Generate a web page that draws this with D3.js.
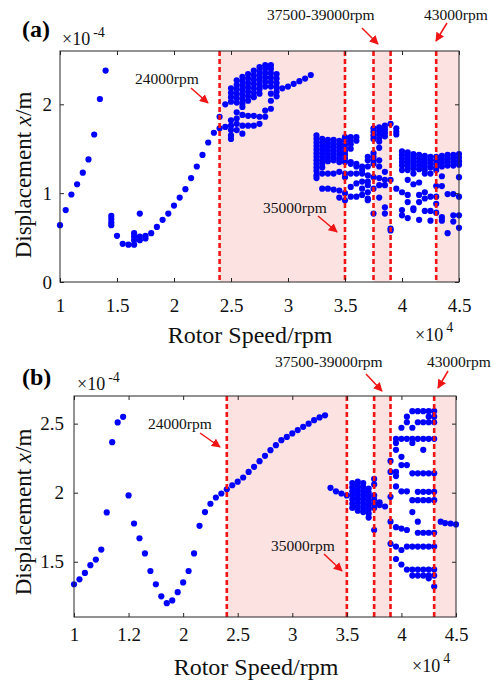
<!DOCTYPE html>
<html>
<head>
<meta charset="utf-8">
<script src="https://cdn.jsdelivr.net/npm/d3@7"></script>
<style>
  body { margin: 0; background: #fff; }
  svg { display: block; }
</style>
</head>
<body>
<div class="layout"></div>
<script>

// speed in x10^4 rpm, displacement in x10^-4 m
const speedTicks = [1, 1.5, 2, 2.5, 3, 3.5, 4, 4.5]
const speedLabelsA = ["1", "1.5", "2", "2.5", "3", "3.5", "4", "4.5"]
const speedLabelsB = ["1", "1.2", "2", "2.5", "3", "3.5", "4", "4.5"]
const dispTicksA = [0, 1, 2]
const dispTicksB = [1.5, 2, 2.5]

// pink bands and the red marker lines (same in both panels)
const shadeBands = [[2.4, 3.5], [3.75, 3.9], [4.3, 4.5]]
const markSpeeds = [2.4, 3.5, 3.75, 3.9, 4.3]

// (a) single points
const curveA = [
  [1.00, 0.64], [1.05, 0.81], [1.10, 0.985], [1.15, 1.10], [1.20, 1.23], [1.25, 1.38],
  [1.30, 1.66], [1.35, 2.06], [1.40, 2.38],
  [1.45, 0.64], [1.45, 0.67], [1.45, 0.71], [1.45, 0.745],
  [1.50, 0.52], [1.55, 0.43], [1.60, 0.42],
  [1.65, 0.42], [1.65, 0.47], [1.65, 0.51], [1.65, 0.55],
  [1.70, 0.47], [1.70, 0.51], [1.70, 0.77], [1.75, 0.49], [1.75, 0.52],
  [1.80, 0.55], [1.85, 0.62], [1.90, 0.70], [1.95, 0.77], [2.00, 0.86], [2.05, 0.95],
  [2.10, 1.045], [2.15, 1.17], [2.20, 1.30], [2.25, 1.43], [2.30, 1.57], [2.35, 1.68],
  [2.40, 1.73], [2.40, 1.86],
  [2.95, 2.18], [3.00, 2.20], [3.05, 2.23], [3.10, 2.26], [3.15, 2.29], [3.20, 2.33]
]

// (a) columns of points, 24000-29000 rpm
const clusterA1 = [
  [2.45, [2.00, 1.745]],
  [2.50, [2.18, 2.13, 2.08, 2.03, 1.82, 1.76, 1.71, 1.65, 1.61]],
  [2.55, [2.27, 2.22, 2.17, 2.12, 2.07, 2.02, 1.91, 1.84, 1.78, 1.71]],
  [2.60, [2.31, 2.26, 2.21, 2.16, 2.11, 2.06, 2.01, 1.97, 1.88, 1.76, 1.67]],
  [2.65, [2.34, 2.29, 2.24, 2.19, 2.14, 2.09, 2.04, 1.87, 1.76]],
  [2.70, [2.38, 2.33, 2.28, 2.23, 2.18, 2.13, 2.08, 1.87, 1.76]],
  [2.75, [2.42, 2.37, 2.32, 2.27, 2.22, 2.17, 2.12, 1.86, 1.78]],
  [2.80, [2.44, 2.40, 2.35, 2.30, 2.25, 2.20, 1.93, 1.86]],
  [2.85, [2.44, 2.40, 2.35, 2.30, 2.25, 2.20, 2.12, 2.04, 1.95]],
  [2.90, [2.34, 2.29, 2.24, 2.19, 2.14, 2.09]]
]

// (a) columns of points, 32500-45000 rpm
const clusterA2 = [
  [3.25, [1.65, 1.61, 1.57, 1.53, 1.49, 1.45, 1.41, 1.37, 1.33, 1.29, 1.25, 1.20, 1.17]],
  [3.30, [1.61, 1.57, 1.53, 1.49, 1.45, 1.41, 1.37, 1.33, 1.29, 1.22, 1.05]],
  [3.35, [1.60, 1.56, 1.52, 1.48, 1.44, 1.40, 1.36, 1.22, 1.05]],
  [3.40, [1.60, 1.56, 1.52, 1.48, 1.44, 1.40, 1.37, 1.22, 1.04]],
  [3.45, [1.59, 1.55, 1.51, 1.47, 1.43, 1.39, 1.35, 1.24, 1.03, 0.95]],
  [3.50, [1.63, 1.59, 1.55, 1.51, 1.47, 1.43, 1.39, 1.35, 1.22, 1.18, 1.00, 0.92]],
  [3.55, [1.63, 1.59, 1.55, 1.50, 1.35, 1.33, 1.22, 1.07, 0.96]],
  [3.60, [1.63, 1.59, 1.33, 1.30, 1.22, 1.11, 0.96]],
  [3.65, [1.30, 1.26, 1.22, 1.13, 1.05, 0.98]],
  [3.70, [1.41, 1.37, 1.30, 1.20, 1.13, 1.09, 1.01, 0.94, 0.92]],
  [3.75, [1.73, 1.69, 1.65, 1.61, 1.45, 1.41, 1.37, 1.33, 1.18, 1.05, 0.77]],
  [3.80, [1.74, 1.70, 1.66, 1.62, 1.58, 1.51, 1.37, 1.30, 1.17, 1.09, 0.95]],
  [3.85, [1.76, 1.72, 1.68, 1.64, 1.24, 1.15, 1.09, 0.84, 0.77]],
  [3.90, [1.78, 1.15, 0.60, 0.58]],
  [3.95, [1.73, 1.69, 1.66, 1.05]],
  [4.00, [1.47, 1.43, 1.39, 1.35, 1.31, 1.26, 1.01, 0.81, 0.75]],
  [4.05, [1.46, 1.42, 1.38, 1.34, 1.30, 1.26, 1.15, 0.98, 0.90, 0.72]],
  [4.10, [1.44, 1.40, 1.36, 1.32, 1.28, 1.22, 1.10, 0.83, 0.81]],
  [4.15, [1.43, 1.39, 1.35, 1.31, 1.27, 1.12, 0.98, 0.90, 0.70]],
  [4.20, [1.42, 1.38, 1.34, 1.30, 1.26, 1.22, 1.01, 0.94, 0.80]],
  [4.25, [1.41, 1.37, 1.33, 1.29, 1.22, 0.96, 0.80, 0.69]],
  [4.30, [1.41, 1.37, 1.33, 1.29, 1.26, 1.08, 0.96, 0.88, 0.78]],
  [4.35, [1.42, 1.38, 1.34, 1.30, 1.19, 1.08, 0.73, 0.69]],
  [4.40, [1.43, 1.39, 1.35, 1.31, 0.99, 0.55]],
  [4.45, [1.43, 1.39, 1.35, 1.31, 0.99, 0.75, 0.68]],
  [4.50, [1.44, 1.40, 1.36, 1.32, 1.18, 0.96, 0.75, 0.61]]
]

// (b) single points
const curveB = [
  [1.00, 1.337], [1.05, 1.373], [1.10, 1.419], [1.15, 1.475], [1.20, 1.516], [1.25, 1.588],
  [1.30, 1.857], [1.35, 2.366], [1.40, 2.509], [1.45, 2.549], [1.50, 1.98], [1.55, 1.777],
  [1.60, 1.67], [1.65, 1.56], [1.70, 1.433], [1.75, 1.337], [1.80, 1.25], [1.85, 1.20],
  [1.90, 1.22], [1.95, 1.28], [2.00, 1.35], [2.05, 1.433], [2.10, 1.56], [2.15, 1.76],
  [2.20, 1.86], [2.25, 1.92], [2.30, 1.965], [2.35, 1.994], [2.40, 2.025], [2.45, 2.054],
  [2.50, 2.08], [2.55, 2.11], [2.60, 2.15], [2.65, 2.187], [2.70, 2.228], [2.75, 2.267],
  [2.80, 2.308], [2.85, 2.344], [2.90, 2.38], [2.95, 2.404], [3.00, 2.429], [3.05, 2.453],
  [3.10, 2.477], [3.15, 2.50], [3.20, 2.525], [3.25, 2.545], [3.30, 2.56],
  [3.35, 2.035], [3.40, 2.01], [3.45, 1.994], [3.50, 1.98],
  [4.36, 1.79], [4.40, 1.78], [4.45, 1.777], [4.50, 1.77]
]

// (b) columns of points
const clusterB = [
  [3.55, [2.07, 2.04, 2.01, 1.98, 1.95, 1.92, 1.89]],
  [3.60, [2.08, 2.05, 2.02, 1.99, 1.96, 1.93, 1.90, 1.87]],
  [3.65, [2.07, 2.04, 2.01, 1.98, 1.95, 1.92, 1.89, 1.86]],
  [3.70, [2.03, 2.00, 1.97, 1.94, 1.91, 1.88, 1.85, 1.82]],
  [3.75, [2.10, 2.06, 1.98, 1.95, 1.92, 1.89, 1.73]],
  [3.80, [1.93, 1.91]],
  [3.85, [1.90]],
  [3.90, [2.23, 2.15, 1.97, 1.79, 1.63]],
  [3.95, [2.39, 2.36, 2.31, 2.15, 2.12, 2.045, 1.75, 1.61, 1.52]],
  [4.00, [2.47, 2.39, 2.26, 2.20, 2.01, 1.74, 1.585, 1.48]],
  [4.05, [2.55, 2.51, 2.39, 2.20, 2.01, 1.73, 1.61, 1.443]],
  [4.10, [2.59, 2.47, 2.39, 2.36, 2.14, 1.946, 1.86, 1.61, 1.443, 1.40]],
  [4.15, [2.59, 2.51, 2.39, 2.14, 2.006, 1.946, 1.79, 1.71, 1.61, 1.443, 1.40]],
  [4.20, [2.59, 2.51, 2.39, 2.31, 2.14, 2.006, 1.946, 1.71, 1.61, 1.443, 1.40]],
  [4.25, [2.59, 2.55, 2.51, 2.39, 2.14, 2.006, 1.946, 1.71, 1.61, 1.443, 1.40, 1.38]],
  [4.30, [2.59, 2.55, 2.51, 2.39, 2.14, 2.006, 1.946, 1.71, 1.61, 1.443, 1.40, 1.32]]
]

const serif = "'Liberation Serif', 'Times New Roman', serif"
const red = "#f01414"

var svg = d3.select("div.layout")
  .append("svg")
    .attr("width", 493)
    .attr("height", 686)

svg.append("defs")
  .append("marker")
    .attr("id", "head")
    .attr("viewBox", "0 0 10 10")
    .attr("refX", 9)
    .attr("refY", 5)
    .attr("markerWidth", 9)
    .attr("markerHeight", 9)
    .attr("markerUnits", "userSpaceOnUse")
    .attr("orient", "auto")
  .append("path")
    .attr("d", "M0,0 L10,5 L0,10 Z")
    .attr("fill", red)

// flatten column data into points
function toPoints (single, columns) {
  var points = single.slice()
  columns.forEach(function (col) {
    col[1].forEach(function (d) {
      points.push([col[0], d])
    })
  })
  return points
}

function drawPanel (cfg) {
  const x = d3.scaleLinear()
    .domain([1, 4.5])
    .range([cfg.left, cfg.right])

  const y = d3.scaleLinear()
    .domain(cfg.yDomain)
    .range([cfg.bottom, cfg.top])

  var g = svg.append("g")

  // pink bands
  g.selectAll("rect.band")
    .data(shadeBands)
    .enter()
    .append("rect")
    .attr("class", "band")
    .attr("x", function (d) { return x(d[0]) })
    .attr("y", cfg.top)
    .attr("width", function (d) { return x(d[1]) - x(d[0]) })
    .attr("height", cfg.bottom - cfg.top)
    .attr("fill", "#fde2e2")

  // the dots
  g.selectAll("circle")
    .data(cfg.points)
    .enter()
    .append("circle")
    .attr("cx", function (d) { return x(d[0]) })
    .attr("cy", function (d) { return y(d[1]) })
    .attr("r", 3.1)
    .attr("fill", "#0000ff")

  // red dashed lines
  g.selectAll("line.mark")
    .data(markSpeeds)
    .enter()
    .append("line")
    .attr("class", "mark")
    .attr("x1", function (d) { return x(d) })
    .attr("x2", function (d) { return x(d) })
    .attr("y1", cfg.top)
    .attr("y2", cfg.bottom)
    .attr("stroke", red)
    .attr("stroke-width", 2.6)
    .attr("stroke-dasharray", "5,3")

  // axes, ticks pointing inwards on all four sides
  var xAxis = g.append("g")
    .attr("transform", "translate(0," + cfg.bottom + ")")
    .call(d3.axisBottom(x)
      .tickValues(speedTicks)
      .tickFormat(function (d, i) { return cfg.xLabels[i] })
      .tickSizeInner(-4)
      .tickSizeOuter(0)
      .tickPadding(cfg.xPad))

  var yAxis = g.append("g")
    .attr("transform", "translate(" + cfg.left + ",0)")
    .call(d3.axisLeft(y)
      .tickValues(cfg.yTicks)
      .tickFormat(d3.format("~g"))
      .tickSizeInner(-4)
      .tickSizeOuter(0)
      .tickPadding(cfg.yPad))

  g.append("g")
    .attr("transform", "translate(0," + cfg.top + ")")
    .call(d3.axisTop(x).tickValues(speedTicks).tickFormat("").tickSizeInner(-4).tickSizeOuter(0))

  g.append("g")
    .attr("transform", "translate(" + cfg.right + ",0)")
    .call(d3.axisRight(y).tickValues(cfg.yTicks).tickFormat("").tickSizeInner(-4).tickSizeOuter(0))

  g.selectAll(".domain").remove()
  g.selectAll(".tick line").attr("stroke", "#262626")

  g.selectAll(".tick text")
    .attr("font-family", serif)
    .attr("font-size", 19)
    .attr("fill", "#111")

  g.append("rect")
    .attr("x", cfg.left)
    .attr("y", cfg.top)
    .attr("width", cfg.right - cfg.left)
    .attr("height", cfg.bottom - cfg.top)
    .attr("fill", "none")
    .attr("stroke", "#262626")
    .attr("stroke-width", 1)

  // panel letter
  g.append("text")
    .attr("x", 22)
    .attr("y", cfg.letterY)
    .attr("font-family", serif)
    .attr("font-weight", "bold")
    .attr("font-size", 24)
    .text(cfg.letter)

  // x10^-4 over the y axis
  var yExp = g.append("text")
    .attr("x", cfg.yExpX)
    .attr("y", cfg.yExpY)
    .attr("font-family", serif)
    .attr("font-size", 18)
    .attr("fill", "#111")
    .text("\u00d710")
  yExp.append("tspan")
    .attr("dx", 3)
    .attr("dy", -8)
    .attr("font-size", 14)
    .text("-4")

  // x10^4 under the x axis
  var xExp = g.append("text")
    .attr("x", cfg.xExpX)
    .attr("y", cfg.xExpY)
    .attr("font-family", serif)
    .attr("font-size", 18)
    .attr("fill", "#111")
    .text("\u00d710")
  xExp.append("tspan")
    .attr("dx", 3)
    .attr("dy", -9)
    .attr("font-size", 14)
    .text("4")

  g.append("text")
    .attr("x", cfg.xTitleX)
    .attr("y", cfg.xTitleY)
    .attr("text-anchor", "middle")
    .attr("font-family", serif)
    .attr("font-size", 24)
    .attr("fill", "#111")
    .text("Rotor Speed/rpm")

  var yTitle = g.append("text")
    .attr("transform", "translate(31," + cfg.yTitleY + ") rotate(-90)")
    .attr("text-anchor", "middle")
    .attr("font-family", serif)
    .attr("font-size", 23)
    .attr("fill", "#111")
    .text("Displacement ")
  yTitle.append("tspan").attr("font-style", "italic").text("x")
  yTitle.append("tspan").text("/m")

  // rpm notes with red arrows
  cfg.notes.forEach(function (n) {
    g.append("text")
      .attr("x", n.x)
      .attr("y", n.y)
      .attr("font-family", serif)
      .attr("font-size", 15.5)
      .attr("fill", "#111")
      .text(n.text)
    g.append("line")
      .attr("x1", n.arrow[0])
      .attr("y1", n.arrow[1])
      .attr("x2", n.arrow[2])
      .attr("y2", n.arrow[3])
      .attr("stroke", red)
      .attr("stroke-width", 1.5)
      .attr("marker-end", "url(#head)")
  })
}

drawPanel({
  letter: "(a)", letterY: 37,
  left: 60, right: 459, top: 51, bottom: 282,
  yDomain: [0, 2.6], yTicks: dispTicksA, xLabels: speedLabelsA,
  xPad: 17, yPad: 8,
  points: toPoints(curveA, clusterA1.concat(clusterA2)),
  yExpX: 62, yExpY: 45, xExpX: 415, xExpY: 341,
  xTitleX: 250, xTitleY: 343, yTitleY: 175,
  notes: [
    { text: "24000rpm", x: 135, y: 84, arrow: [191, 88, 208, 103] },
    { text: "37500-39000rpm", x: 267, y: 20, arrow: [362, 28, 378, 44] },
    { text: "43000rpm", x: 424, y: 20, arrow: [447, 23, 436, 41] },
    { text: "35000rpm", x: 263, y: 213, arrow: [318, 216, 337, 232] }
  ]
})

drawPanel({
  letter: "(b)", letterY: 385,
  left: 74, right: 456, top: 396, bottom: 617,
  yDomain: [1.1, 2.7], yTicks: dispTicksB, xLabels: speedLabelsB,
  xPad: 11, yPad: 10,
  points: toPoints(curveB, clusterB),
  yExpX: 77, yExpY: 390, xExpX: 412, xExpY: 672,
  xTitleX: 256, xTitleY: 675, yTitleY: 512,
  notes: [
    { text: "24000rpm", x: 148, y: 429, arrow: [200, 433, 220, 447] },
    { text: "37500-39000rpm", x: 275, y: 367, arrow: [366, 374, 382, 391] },
    { text: "43000rpm", x: 427, y: 367, arrow: [448, 371, 438, 388] },
    { text: "35000rpm", x: 271, y: 551, arrow: [324, 554, 342, 571] }
  ]
})

</script>
</body>
</html>
